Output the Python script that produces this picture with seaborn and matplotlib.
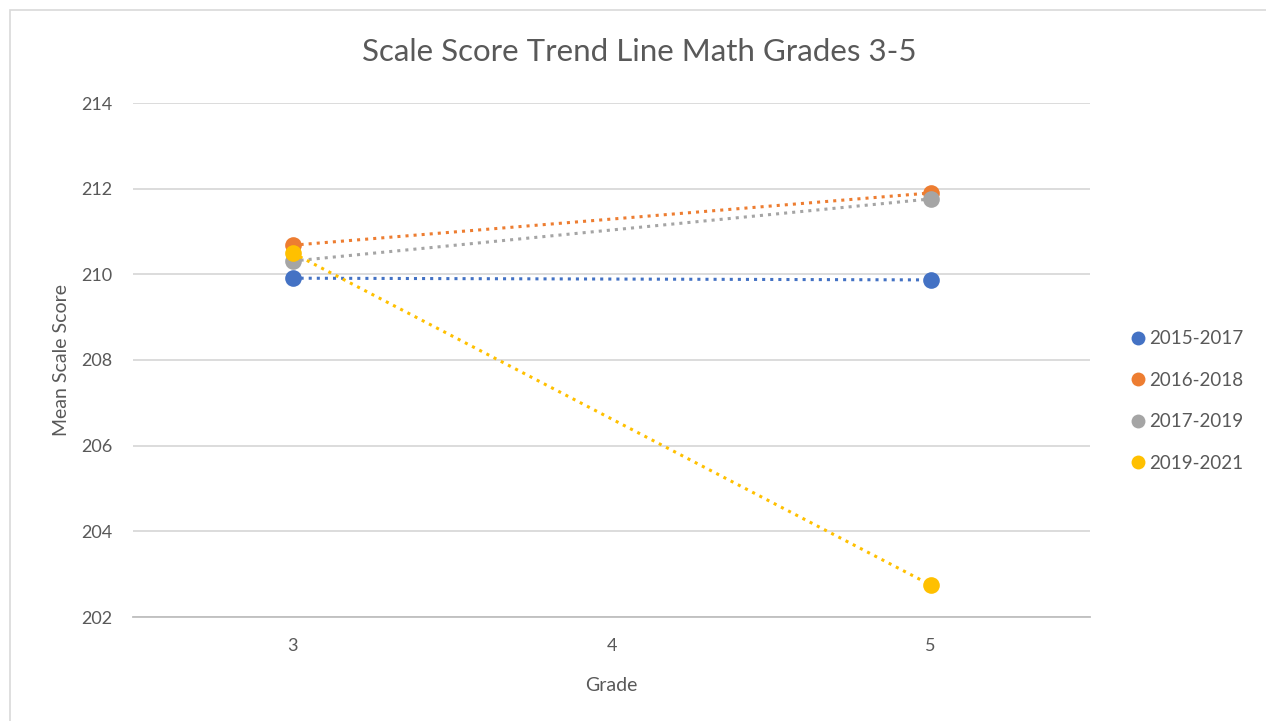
import matplotlib
matplotlib.use("Agg")
import matplotlib.pyplot as plt
import seaborn as sns
import pandas as pd
from matplotlib.lines import Line2D
from matplotlib.patches import Rectangle

grades = [3, 5]
periods = ["2015-2017", "2016-2018", "2017-2019", "2019-2021"]
s2015_2017 = [209.91, 209.87]
s2016_2018 = [210.68, 211.90]
s2017_2019 = [210.31, 211.76]
s2019_2021 = [210.50, 202.75]
colors = ["#4472C4", "#ED7D31", "#A5A5A5", "#FFC000"]

rows = []
for p, vals in zip(periods, [s2015_2017, s2016_2018, s2017_2019, s2019_2021]):
    for g, v in zip(grades, vals):
        rows.append({"Grade": g, "Score": v, "Period": p})
df = pd.DataFrame(rows)

sns.set_theme(style="white")
plt.rcParams['font.family'] = ['Lato', 'DejaVu Sans']

fig = plt.figure(figsize=(12.66, 7.21), dpi=100)
ax = fig.add_axes([133/1266, 1-617/721, (1090-133)/1266, (617-103)/721])

# outer chart frame
fig.patches.append(Rectangle((10/1266, -0.01), 1.02, 1-10/721+0.01, transform=fig.transFigure,
                             fill=False, edgecolor="#D9D9D9", linewidth=1.2))

for ytick in [202, 204, 206, 208, 210, 212, 214]:
    ax.axhline(ytick, color="#D9D9D9", linewidth=1.3, zorder=0)

sns.lineplot(data=df, x="Grade", y="Score", hue="Period", palette=colors,
             hue_order=periods, linestyle=":", linewidth=2.2, marker="o",
             markersize=12, markeredgewidth=0, ax=ax, legend=False)

ax.set_xlim(2.5, 5.5)
ax.set_ylim(202, 214)
ax.set_xticks([3, 4, 5])
ax.set_yticks([202, 204, 206, 208, 210, 212, 214])
ax.tick_params(axis="both", labelsize=13, colors="#595959", length=0, pad=15)
for s in ["top", "right", "left"]:
    ax.spines[s].set_visible(False)
ax.spines["bottom"].set_color("#BFBFBF")
ax.spines["bottom"].set_linewidth(1.3)
ax.set_xlabel("Grade", fontsize=14, color="#595959", labelpad=17)
ax.set_ylabel("Mean Scale Score", fontsize=14, color="#595959", labelpad=8)
fig.text(639/1266, 1-52/721, "Scale Score Trend Line Math Grades 3-5", fontsize=22.5,
         color="#595959", ha="center", va="center")

handles = [Line2D([0], [0], marker="o", linestyle="none", markersize=10,
                  markerfacecolor=c, markeredgewidth=0) for c in colors]
fig.legend(handles, periods, loc="center left", bbox_to_anchor=(1110/1266, 1-401/721),
           frameon=False, fontsize=13.5, labelcolor="#595959", handletextpad=0.0,
           labelspacing=1.3, handlelength=1.2)

fig.savefig("out.png", dpi=100, facecolor="white")
